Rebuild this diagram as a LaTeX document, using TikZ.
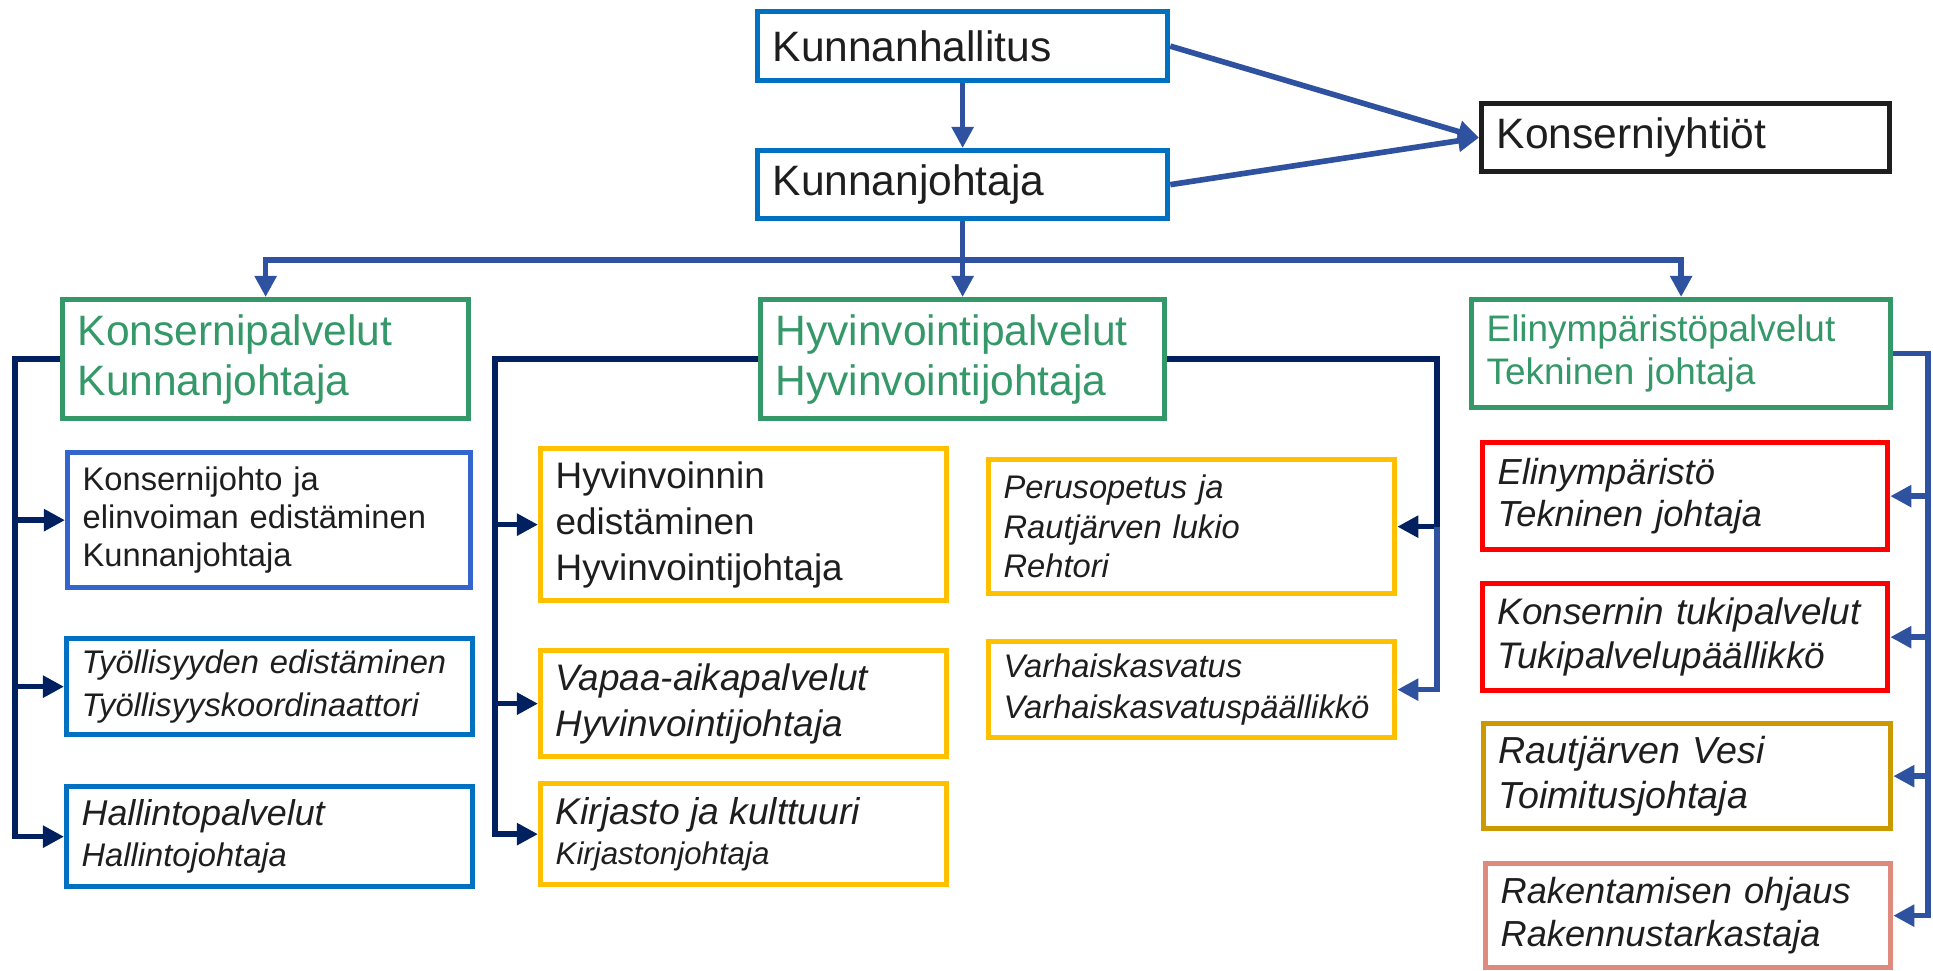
\documentclass[tikz,border=0pt]{standalone}
\usepackage{fontspec}
\setmainfont{Liberation Sans}
\usetikzlibrary{arrows.meta}
\definecolor{topblue}{RGB}{0,112,192}
\definecolor{lightblue}{RGB}{51,102,204}
\definecolor{lineblue}{RGB}{47,82,160}
\definecolor{navy}{RGB}{0,32,96}
\definecolor{orggreen}{RGB}{53,152,104}
\definecolor{orgyellow}{RGB}{255,192,0}
\definecolor{orgred}{RGB}{255,0,0}
\definecolor{orggold}{RGB}{204,153,0}
\definecolor{orgsalmon}{RGB}{222,138,125}
\definecolor{txt}{RGB}{30,30,30}
\hyphenpenalty=10000
\exhyphenpenalty=10000

\begin{document}
\begin{tikzpicture}[
  box/.style={draw, line width=1.5pt, anchor=north west, align=left,
              inner xsep=0.15cm, inner ysep=0pt, text=txt, fill=white},
  boxsize/.style 2 args={minimum width=#1cm, minimum height=#2cm,
              text width=#1cm-0.3cm},
  conn/.style={line width=1.6pt, draw=lineblue},
  arr/.style={conn, -{Triangle[length=6pt,width=6pt]}},
  navyarr/.style={arr, draw=navy}
]
  \path[fill=white] (0,0) rectangle (19.33,-9.69);

  % Top level
  \node[box, boxsize={4.10}{0.69}, draw=topblue, font=\fontsize{12.1}{14}\selectfont]
    (kh) at (7.55,-0.09) {Kunnanhallitus};
  \node[box, boxsize={4.10}{0.68}, draw=topblue, font=\fontsize{12.1}{14}\selectfont]
    (kj) at (7.55,-1.48) {Kunnanjohtaja};
  \node[box, boxsize={4.08}{0.68}, draw=txt, font=\fontsize{12.1}{14}\selectfont]
    (ky) at (14.79,-1.01) {Konserniyhtiöt};

  % Sectors
  \node[box, boxsize={4.06}{1.19}, draw=orggreen, text=orggreen,
        font=\fontsize{12.1}{14.2}\selectfont]
    (kp) at (0.60,-2.97) {Konsernipalvelut\\Kunnanjohtaja};
  \node[box, boxsize={4.04}{1.19}, draw=orggreen, text=orggreen,
        font=\fontsize{12.1}{14.2}\selectfont]
    (hp) at (7.58,-2.97) {Hyvinvointipalvelut\\Hyvinvointijohtaja};
  \node[box, boxsize={4.19}{1.08}, draw=orggreen, text=orggreen,
        font=\fontsize{10.5}{12.2}\selectfont]
    (ep) at (14.69,-2.97) {Elinympäristöpalvelut\\Tekninen johtaja};

  % Konsernipalvelut units
  \node[box, boxsize={4.03}{1.35}, draw=lightblue, font=\fontsize{9.3}{10.8}\selectfont]
    (kjoht) at (0.65,-4.50) {Konsernijohto ja\\elinvoiman edistäminen\\Kunnanjohtaja};
  \node[box, boxsize={4.06}{0.96}, draw=topblue, font=\fontsize{9.3}{12.2}\selectfont\itshape]
    (tyoll) at (0.64,-6.36) {Työllisyyden edistäminen\\Työllisyyskoordinaattori};
  \node[box, boxsize={4.06}{1.00}, draw=topblue, font=\fontsize{9.3}{11.6}\selectfont\itshape]
    (hall) at (0.64,-7.84) {{\fontsize{10.2}{11.6}\selectfont Hallintopalvelut}\\Hallintojohtaja};

  % Hyvinvointipalvelut units
  \node[box, boxsize={4.06}{1.52}, draw=orgyellow, font=\fontsize{10.5}{13.1}\selectfont]
    (hyvi) at (5.38,-4.46) {Hyvinvoinnin\\edistäminen\\Hyvinvointijohtaja};
  \node[box, boxsize={4.06}{1.06}, draw=orgyellow, font=\fontsize{10.5}{13}\selectfont\itshape]
    (vapaa) at (5.38,-6.48) {Vapaa-aikapalvelut\\Hyvinvointijohtaja};
  \node[box, boxsize={4.06}{1.01}, draw=orgyellow, font=\fontsize{8.9}{11.6}\selectfont\itshape]
    (kirj) at (5.38,-7.81) {{\fontsize{10.6}{11.6}\selectfont Kirjasto ja kulttuuri}\\Kirjastonjohtaja};
  \node[box, boxsize={4.06}{1.34}, draw=orgyellow, font=\fontsize{9.3}{11.2}\selectfont\itshape]
    (perus) at (9.86,-4.57) {Perusopetus ja\\Rautjärven lukio\\Rehtori};
  \node[box, boxsize={4.06}{0.96}, draw=orgyellow, font=\fontsize{9.3}{11.6}\selectfont\itshape]
    (varh) at (9.86,-6.39) {Varhaiskasvatus\\Varhaiskasvatuspäällikkö};

  % Elinympäristöpalvelut units
  \node[box, boxsize={4.05}{1.07}, draw=orgred, font=\fontsize{10.3}{12.2}\selectfont\itshape]
    (elin) at (14.80,-4.40) {Elinympäristö\\Tekninen johtaja};
  \node[box, boxsize={4.05}{1.07}, draw=orgred, font=\fontsize{10.5}{12.5}\selectfont\itshape]
    (tuki) at (14.80,-5.81) {Konsernin tukipalvelut\\Tukipalvelupäällikkö};
  \node[box, boxsize={4.07}{1.05}, draw=orggold, font=\fontsize{10.7}{12.6}\selectfont\itshape]
    (vesi) at (14.81,-7.21) {Rautjärven Vesi\\Toimitusjohtaja};
  \node[box, boxsize={4.05}{1.04}, draw=orgsalmon, font=\fontsize{10.3}{12.2}\selectfont\itshape]
    (rak) at (14.83,-8.61) {Rakentamisen ohjaus\\Rakennustarkastaja};

  % Top connectors
  \draw[arr] (kh.south) -- (kj.north);
  \draw[arr] (kh.east) -- (ky.west);
  \draw[arr] (kj.east) -- (ky.west);
  \draw[arr] (kj.south) -- (kj.south |- hp.north);
  \draw[conn] (kj.south) -- ++(0,-0.39) coordinate (split);
  \draw[arr] (split) -| (kp.north);
  \draw[arr] (split) -| (ep.north);

  % Branch lines
  \coordinate (vl) at (0.15,0);
  \coordinate (vm) at (4.95,0);
  \coordinate (vr) at (14.37,0);
  \coordinate (ve) at (19.28,0);

  \draw[navyarr] (kp.west) -- (kp.west -| vl) |- (hall.west);
  \foreach \n in {kjoht,tyoll}
    \draw[navyarr] (vl |- \n.west) -- (\n.west);

  \draw[navyarr] (hp.west) -- (hp.west -| vm) |- (kirj.west);
  \foreach \n in {hyvi,vapaa}
    \draw[navyarr] (vm |- \n.west) -- (\n.west);

  \draw[navyarr] (hp.east) -- (hp.east -| vr) |- (perus.east);
  \draw[arr] (vr |- perus.east) |- (varh.east);

  \draw[arr] (ep.east) -- (ep.east -| ve) |- (rak.east);
  \foreach \n in {elin,tuki,vesi}
    \draw[arr] (ve |- \n.east) -- (\n.east);
\end{tikzpicture}
\end{document}
